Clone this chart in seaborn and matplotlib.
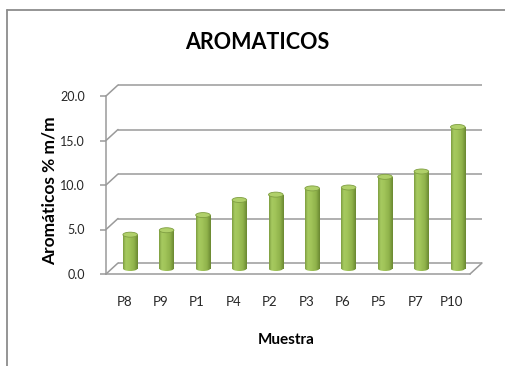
import numpy as np
import pandas as pd
import matplotlib
matplotlib.use("Agg")
import matplotlib.pyplot as plt
import seaborn as sns
from matplotlib.transforms import offset_copy
from matplotlib.patches import Ellipse
from matplotlib.lines import Line2D
from matplotlib.colors import LinearSegmentedColormap

# ---- data -------------------------------------------------------------
muestras = ["P8", "P9", "P1", "P4", "P2", "P3", "P6", "P5", "P7", "P10"]
aromaticos = [3.8, 4.3, 6.0, 7.7, 8.3, 9.0, 9.1, 10.3, 10.9, 15.9]
y_ticks = [0, 5, 10, 15, 20]
y_tick_labels = ["0.0", "5.0", "10.0", "15.0", "20.0"]

# ---- style ------------------------------------------------------------
sns.set_theme(style="white")
plt.rcParams["font.family"] = ["Lato", "DejaVu Sans"]

W, H, DPI = 505, 366, 100
GRID = "#9a9a9a"
TEXT = "#262626"

fig = plt.figure(figsize=(W / DPI, H / DPI), dpi=DPI)
fig.patch.set_facecolor("white")

# front plane of the pseudo-3D box (pixels)
x_left, x_right, y_bottom, y_top = 106, 470, 274, 96
ax = fig.add_axes([x_left / W, 1 - y_bottom / H,
                   (x_right - x_left) / W, (y_bottom - y_top) / H])
ax.patch.set_visible(False)

df = pd.DataFrame({"Muestra": muestras, "Aromaticos": aromaticos})
sns.barplot(data=df, x="Muestra", y="Aromaticos", color="#9bbb59",
            saturation=1, width=0.40, ax=ax, zorder=3)

XLIM = (-0.5, 9.5)
ax.set_xlim(*XLIM)
ax.set_ylim(0, 20)

# depth of the box in pixels, and its size in data units
DX, DY = 12, 11
px_x = ax.transData.transform((1, 0))[0] - ax.transData.transform((0, 0))[0]
px_y = ax.transData.transform((0, 1))[1] - ax.transData.transform((0, 0))[1]
ddx, ddy = DX / px_x, DY / px_y

back = offset_copy(ax.transData, fig=fig, x=DX, y=DY, units="dots")
mid = offset_copy(ax.transData, fig=fig, x=DX / 2, y=DY / 2, units="dots")

# back wall gridlines and the diagonals joining them to the front axis
for t in y_ticks:
    ax.plot(XLIM, [t, t], color=GRID, lw=1.1, transform=back,
            clip_on=False, zorder=1, solid_capstyle="butt")
    ax.plot([XLIM[0], XLIM[0] + ddx], [t, t + ddy], color=GRID, lw=1.1,
            clip_on=False, zorder=1)
# right edge of the floor
ax.plot([XLIM[1], XLIM[1] + ddx], [0, ddy], color=GRID, lw=1.1,
        clip_on=False, zorder=1)

# front axis lines
for side in ["top", "right"]:
    ax.spines[side].set_visible(False)
for side in ["left", "bottom"]:
    ax.spines[side].set_color(GRID)
    ax.spines[side].set_linewidth(1.1)

# cylinder shading
cyl = LinearSegmentedColormap.from_list(
    "cyl", [(0.0, "#7e9d40"), (0.18, "#a6ca60"), (0.40, "#a2c55a"),
            (0.75, "#8fb24a"), (1.0, "#6a8832")])
grad = np.linspace(0, 1, 64).reshape(1, -1)
ell_h = 5 / px_y

for bar in list(ax.patches):
    bar.set_transform(mid)
    bar.set_facecolor("none")
    bar.set_edgecolor("none")
    x0, w, h = bar.get_x(), bar.get_width(), bar.get_height()
    cx = x0 + w / 2

    body = ax.imshow(grad, cmap=cyl, aspect="auto", interpolation="bilinear",
                     extent=(x0, x0 + w, -ell_h, h), transform=mid, zorder=3)
    body.set_clip_path(bar)

    base = Ellipse((cx, 0), w, ell_h, transform=mid)
    foot = ax.imshow(grad, cmap=cyl, aspect="auto", interpolation="bilinear",
                     extent=(x0, x0 + w, -ell_h, h), transform=mid, zorder=3)
    foot.set_clip_path(base)

    top = Ellipse((cx, h), w, ell_h, transform=mid, facecolor="#b0d06a",
                  edgecolor="#7f9e42", lw=0.6, zorder=4)
    ax.add_patch(top)

ax.set_xlim(*XLIM)
ax.set_ylim(0, 20)

# ticks and labels
ax.set_yticks(y_ticks, y_tick_labels)
ax.tick_params(axis="y", left=True, length=4.3, width=1.1, color=GRID,
               pad=10.8, labelsize=9, labelcolor=TEXT)
ax.tick_params(axis="x", bottom=False, length=0, pad=15.5,
               labelsize=9.5, labelcolor=TEXT)
ax.set_xlabel("")
ax.set_ylabel("")

fig.text(257 / W, 1 - 49 / H, "AROMATICOS", ha="center", va="baseline",
         fontsize=15.5, fontweight="bold", color="black")
fig.text(286 / W, 1 - 344 / H, "Muestra", ha="center", va="baseline",
         fontsize=11, fontweight="bold", color="black")
fig.text(55 / W, 1 - 191 / H, "Aromáticos % m/m", ha="center", va="baseline",
         rotation=90, rotation_mode="anchor",
         fontsize=12.5, fontweight="bold", color="black")

# chart area border
fig.add_artist(Line2D([7 / W, 1], [1 - 10 / H, 1 - 10 / H], color="#8c8c8c",
                      lw=1.3, transform=fig.transFigure))
fig.add_artist(Line2D([7 / W, 7 / W], [1 - 10 / H, 0], color="#8c8c8c",
                      lw=1.3, transform=fig.transFigure))

fig.savefig("out.png", dpi=DPI, facecolor="white")
